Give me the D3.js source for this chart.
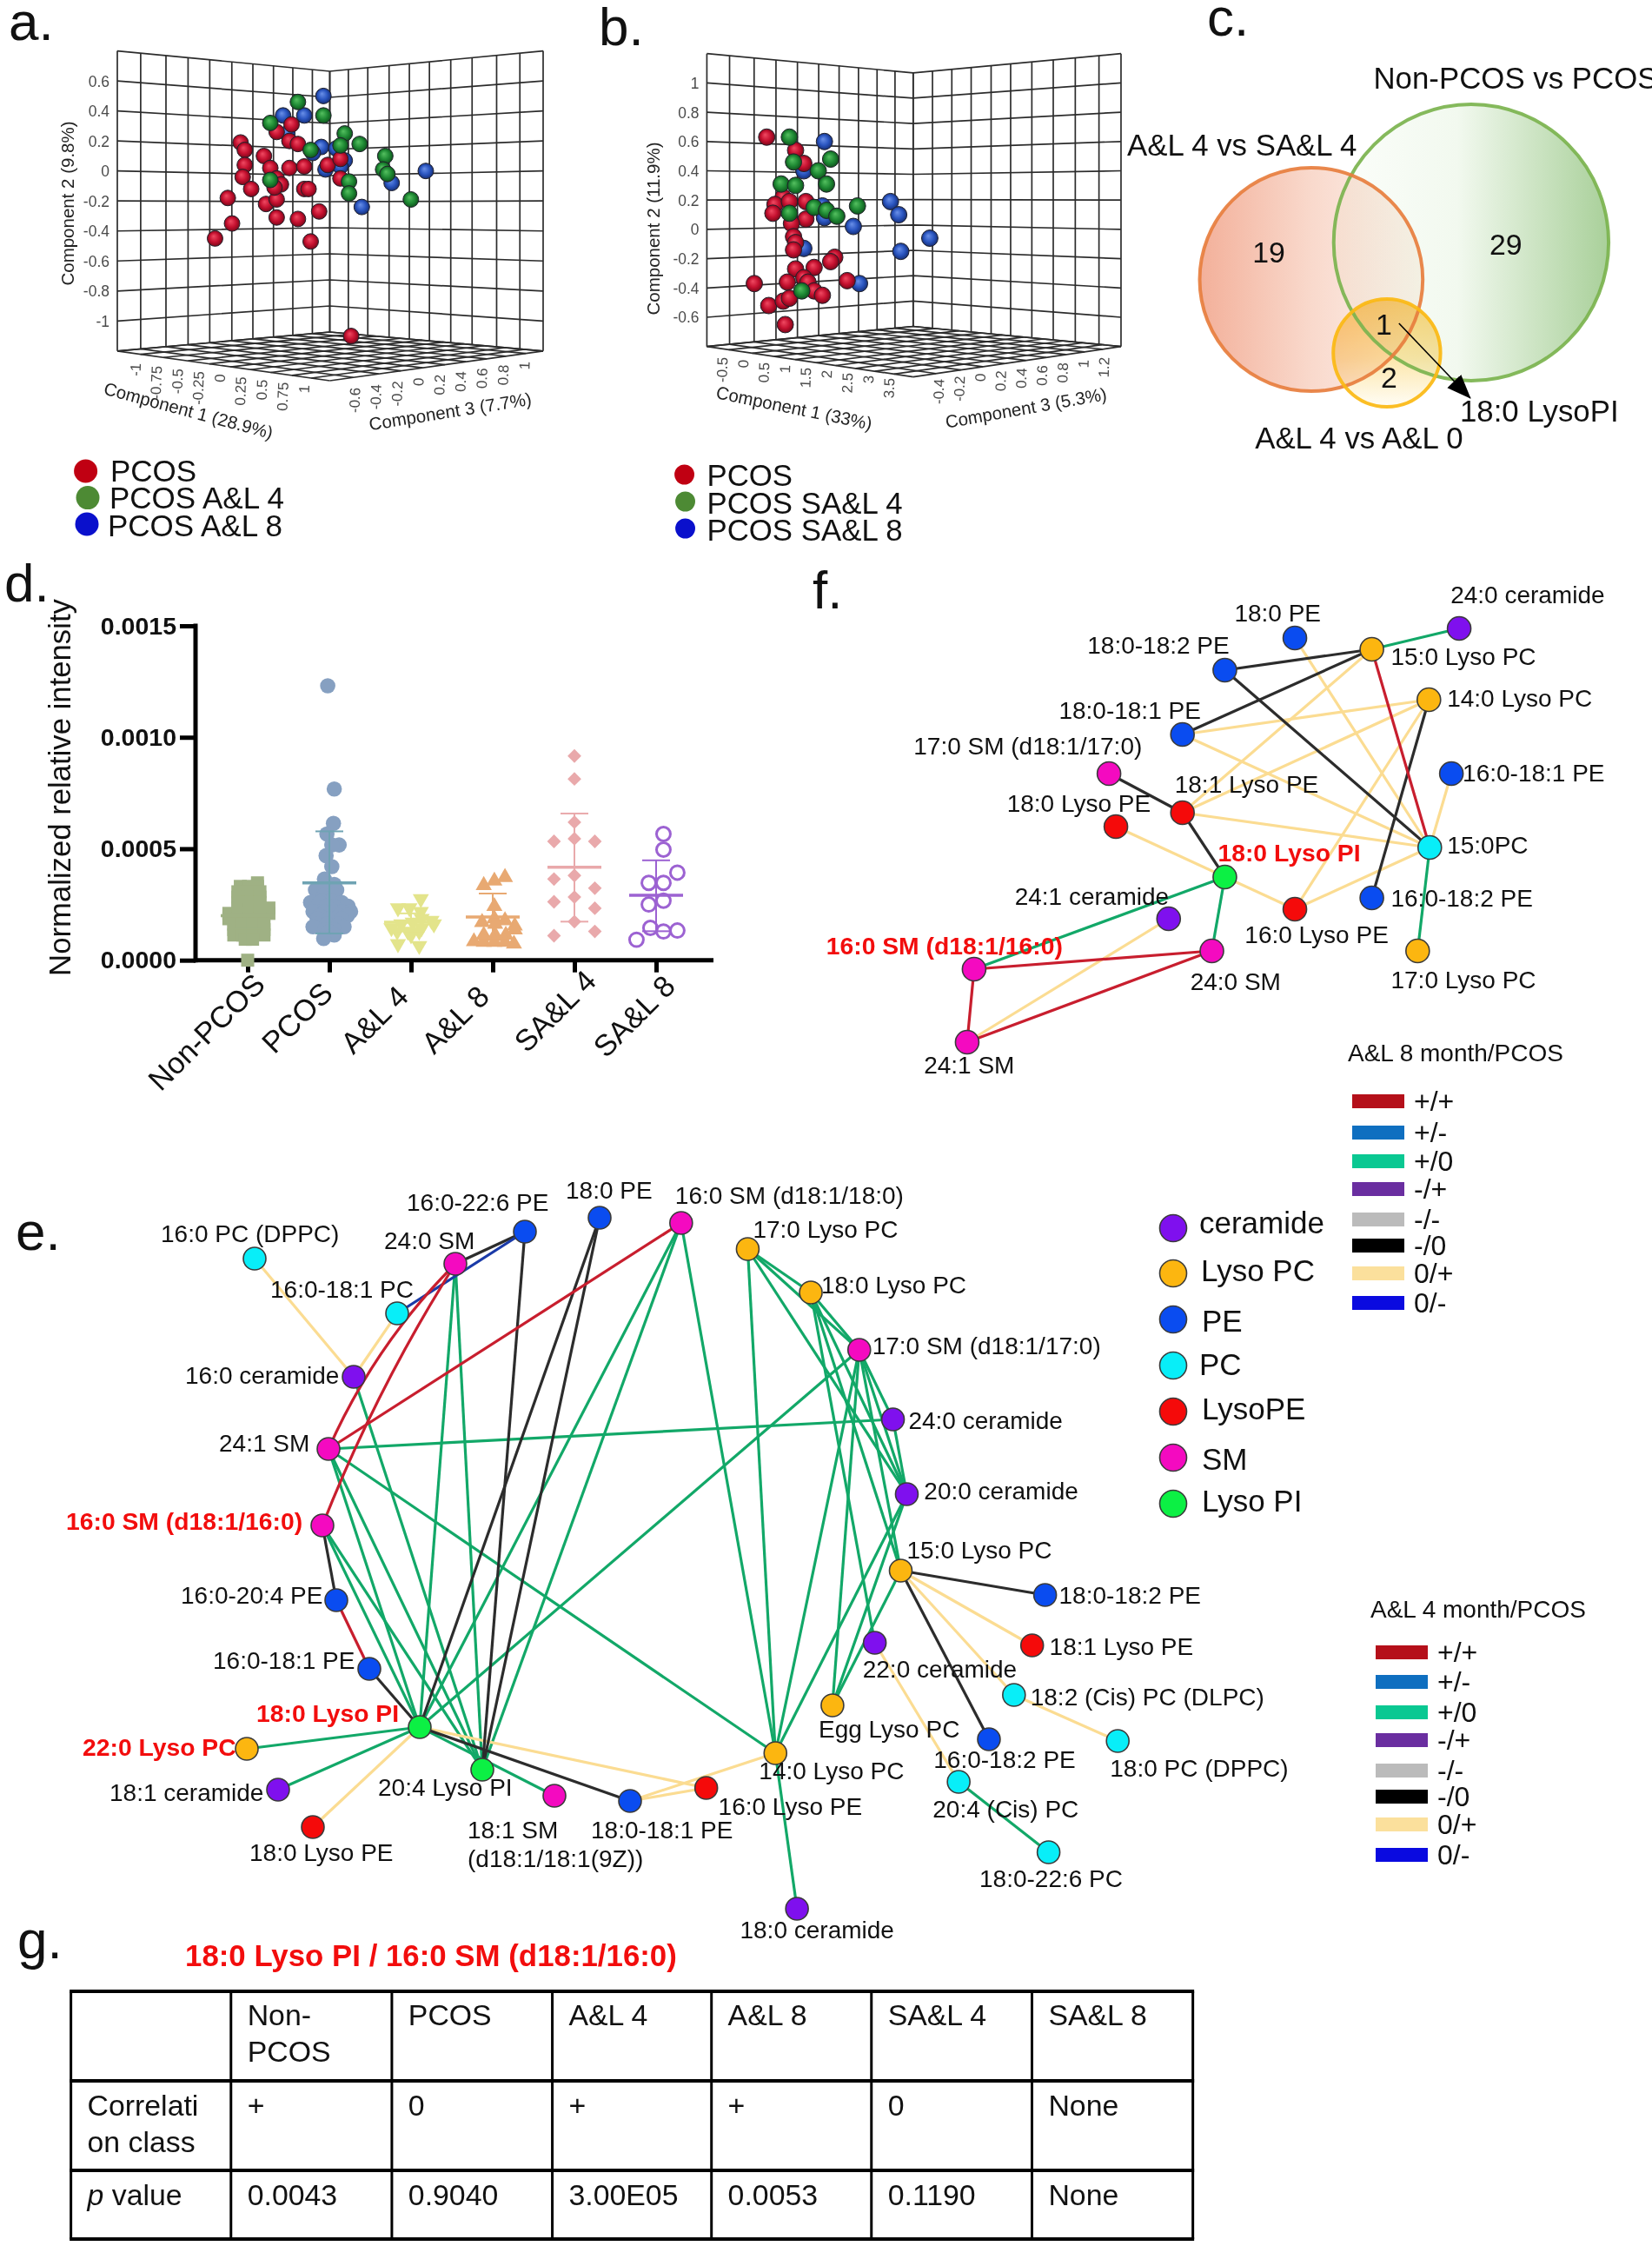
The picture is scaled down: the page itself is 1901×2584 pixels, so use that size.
<!DOCTYPE html>
<html><head><meta charset="utf-8">
<script src="https://cdn.jsdelivr.net/npm/d3@7/dist/d3.min.js"></script>
<style>
html,body{margin:0;padding:0;background:#fff;overflow:hidden}
svg{display:block}
text{font-family:"Liberation Sans",Arial,sans-serif;fill:#111}
</style></head><body>
<script>
// ---------- Panel a / b: PCA scores as [projected horizontal position, Component 2]
const pcaARed=[[-.42,.19],[-.40,.14],[-.31,.10],[-.40,.04],[-.41,-.04],[-.28,.02],[-.19,.02],[-.12,.03],[-.37,-.12],[-.48,-.18],[-.46,-.35],[-.54,-.45],[-.30,-.22],[-.25,-.19],[-.25,-.31],[-.15,-.32],[-.05,-.27],[-.09,-.47],[-.25,-.05],[-.23,-.09],[-.26,-.11],[-.12,-.12],[-.10,-.12],[-.25,.26],[-.19,.20],[-.18,.31],[-.15,.18],[-.01,.04],[.05,.08],[.05,-.05],[.10,-1.10]];
const pcaAGreen=[[-.15,.46],[-.03,.37],[-.28,.32],[.07,.25],[.14,.18],[.05,.17],[-.09,.14],[.26,.10],[.25,.01],[.27,-.02],[-.28,-.06],[.09,-.07],[.09,-.15],[.38,-.19]];
const pcaABlue=[[-.03,.50],[-.22,.37],[-.12,.37],[-.20,.25],[-.04,.16],[.03,.15],[-.08,.12],[.07,.07],[.05,.03],[-.02,.01],[.29,-.08],[.45,0],[.15,-.24]];
const pcaBRed=[[-.71,.63],[-.57,.54],[-.53,.45],[-.63,.22],[-.67,.17],[-.60,.19],[-.52,.19],[-.68,.11],[-.52,.07],[-.59,.04],[-.58,-.05],[-.57,-.09],[-.58,-.14],[-.38,-.19],[-.40,-.22],[-.48,-.26],[-.57,-.27],[-.77,-.37],[-.61,-.36],[-.53,-.33],[-.51,-.36],[-.70,-.52],[-.63,-.49],[-.60,-.47],[-.48,-.42],[-.44,-.45],[-.32,-.35],[-.62,-.65]];
const pcaBGreen=[[-.60,.63],[-.40,.48],[-.58,.46],[-.46,.40],[-.64,.31],[-.57,.30],[-.42,.31],[-.27,.16],[-.48,.15],[-.60,.11],[-.42,.13],[-.37,.09],[-.54,-.42]];
const pcaBBlue=[[-.43,.60],[-.53,.40],[-.11,.19],[-.07,.10],[-.44,.16],[-.43,.08],[-.29,.02],[.08,-.06],[-.53,-.13],[-.06,-.15],[-.26,-.37]];
const aY=[0.6,0.4,0.2,0,-0.2,-0.4,-0.6,-0.8,-1];
const bY=[1,0.8,0.6,0.4,0.2,0,-0.2,-0.4,-0.6];
const aC1=["-1","-0.75","-0.5","-0.25","0","0.25","0.5","0.75","1"];
const aC3=["-0.6","-0.4","-0.2","0","0.2","0.4","0.6","0.8","1"];
const bC1=["-0.5","0","0.5","1","1.5","2","2.5","3","3.5"];
const bC3=["-0.4","-0.2","0","0.2","0.4","0.6","0.8","1","1.2"];
const aWallL=[0,.11,.229,.333,.435,.539,.638,.735,.826,.918,1];
const aWallR=[0,.087,.178,.278,.373,.467,.567,.667,.782,.891,1];
const bWallL=[0,.11,.229,.335,.439,.542,.641,.735,.825,.912,1];
const bWallR=[0,.093,.186,.279,.375,.469,.571,.674,.78,.894,1];

// ---------- Panel c
const vennCounts=["19","29","1","2"];
const vennSets=["A&L 4 vs SA&L 4","Non-PCOS vs PCOS","A&L 4 vs A&L 0"];

// ---------- Panel d: rows of [value x 1e-4, swarm offsets in % of a category step]
const dCategories=["Non-PCOS","PCOS","A&L 4","A&L 8","SA&L 4","SA&L 8"];
const dNonPcos=[[3.47,[12]],[3.31,[-9,1,12]],[3.07,[-12,0,15]],[2.83,[-12,0,15]],[2.59,[-12,0,15]],[2.34,[-12,1,15,26]],[2.10,[-23,-12,0,15,26]],[1.86,[-23,-12,1,15]],[1.62,[-17,-6,6,20]],[1.37,[-17,-6,6,20]],[1.13,[-17,-6,6,20]],[.94,[-3,6]],[0,[0]]];
const dPcos=[[12.31,[-2]],[7.68,[6]],[6.14,[5]],[5.66,[-3]],[5.17,[12,3]],[4.69,[-4]],[4.20,[3]],[3.64,[-6]],[3.40,[-3,6]],[3.15,[9,-17,-6]],[2.91,[-6,6]],[2.67,[3,-10]],[2.59,[-23,-12,15]],[2.42,[23,6,-4]],[2.18,[26,-20,-6,6,16]],[2.0,[-12,12,22]],[1.86,[-15,0,15]],[1.62,[-15,-3,12]],[1.50,[-20,18]],[1.37,[-6,6]],[1.29,[0]],[1.13,[6]],[.97,[-7]]];
const dAL4=[[2.75,[12]],[2.34,[-16,-2]],[2.18,[12]],[1.86,[13]],[1.78,[25]],[1.70,[2]],[1.62,[-12,28]],[1.45,[-24,13]],[1.29,[-17,-4,10]],[1.13,[0]],[.73,[-16]],[.65,[10]]];
const dAL8=[[3.72,[15]],[3.56,[2]],[3.36,[-11]],[2.42,[2]],[1.86,[2]],[1.78,[15]],[1.70,[-13]],[1.62,[3]],[1.54,[27]],[1.37,[27]],[1.13,[-11,3,16]],[.84,[-23]],[.81,[-11,2,15]],[.73,[26]]];
const dSAL4=[[9.16,[0]],[8.13,[0]],[6.19,[0]],[5.45,[0]],[5.33,[-25,25]],[3.80,[0]],[3.64,[-25]],[3.23,[25]],[2.83,[0]],[2.62,[-25]],[2.33,[25]],[1.73,[0]],[1.29,[25]],[1.10,[-25]]];
const dSAL8=[[5.66,[9]],[4.96,[9]],[3.93,[26]],[3.47,[-9,9]],[2.67,[9]],[2.50,[-9]],[1.45,[-7]],[1.33,[26]],[1.29,[9]],[.92,[-24]]];
const dMeans=[2.0,3.47,1.7,1.94,4.17,2.91];
const dUpper=[2.6,5.78,2.1,2.99,6.58,4.48];
const dLower=[1.4,1.2,1.3,.9,1.73,1.3];

// ---------- Panels e / f: networks [name, class, node x, node y, label x, label y, highlighted]
const eNodes=[
["16:0 PC (DPPC)","PC",293,1448,185,1429],["16:0-22:6 PE","PE",604,1417,468,1393],["18:0 PE","PE",690,1401,651,1379],
["16:0 SM (d18:1/18:0)","SM",784,1407,777,1385],["24:0 SM","SM",524,1454,442,1437],["16:0-18:1 PC","PC",457,1511,311,1493],
["16:0 ceramide","ceramide",407,1584,213,1592],["24:1 SM","SM",378,1667,252,1670],["16:0 SM (d18:1/16:0)","SM",371,1755,76,1760,1],
["16:0-20:4 PE","PE",387,1841,208,1845],["16:0-18:1 PE","PE",425,1920,245,1920],["18:0 Lyso PI","LysoPI",483,1987,295,1981,1],
["22:0 Lyso PC","LysoPC",284,2012,95,2020,1],["18:1 ceramide","ceramide",320,2059,126,2072],["18:0 Lyso PE","LysoPE",360,2102,287,2141],
["20:4 Lyso PI","LysoPI",555,2036,435,2066],["18:1 SM","SM",638,2066,538,2115],["18:0-18:1 PE","PE",725,2072,680,2115],
["17:0 Lyso PC","LysoPC",861,1437,867,1424],["18:0 Lyso PC","LysoPC",934,1487,946,1488],["17:0 SM (d18:1/17:0)","SM",990,1553,1005,1558],
["24:0 ceramide","ceramide",1029,1633,1047,1644],["20:0 ceramide","ceramide",1045,1719,1065,1725],["15:0 Lyso PC","LysoPC",1038,1807,1045,1793],
["18:0-18:2 PE","PE",1205,1835,1221,1845],["18:1 Lyso PE","LysoPE",1190,1893,1210,1904],["22:0 ceramide","ceramide",1008,1890,994,1930],
["18:2 (Cis) PC (DLPC)","PC",1169,1950,1188,1962],["Egg Lyso PC","LysoPC",959,1962,943,1999],["18:0 PC (DPPC)","PC",1289,2003,1280,2044],
["16:0-18:2 PE","PE",1140,2001,1076,2034],["14:0 Lyso PC","LysoPC",893,2017,874,2047],["20:4 (Cis) PC","PC",1105,2050,1075,2091],
["16:0 Lyso PE","LysoPE",813,2057,827,2088],["18:0-22:6 PC","PC",1209,2131,1129,2171],["18:0 ceramide","ceramide",918,2196,852,2230]];
const eExtraLabels=[["(d18:1/18:1(9Z))",538,2148]];
const eEdges=[
["+/0","18:0 Lyso PI","22:0 Lyso PC"],["+/0","18:0 Lyso PI","18:1 ceramide"],["+/0","18:0 Lyso PI","24:1 SM"],["+/0","18:0 Lyso PI","16:0 SM (d18:1/16:0)"],["+/0","18:0 Lyso PI","24:0 SM"],["+/0","18:0 Lyso PI","16:0 SM (d18:1/18:0)"],["+/0","18:0 Lyso PI","17:0 SM (d18:1/17:0)"],["+/0","18:0 Lyso PI","18:1 SM"],
["+/0","20:4 Lyso PI","24:0 SM"],["+/0","20:4 Lyso PI","24:1 SM"],["+/0","20:4 Lyso PI","16:0 SM (d18:1/16:0)"],["+/0","20:4 Lyso PI","16:0 ceramide"],["+/0","20:4 Lyso PI","16:0 SM (d18:1/18:0)"],
["+/0","24:1 SM","24:0 ceramide"],["+/0","24:1 SM","14:0 Lyso PC"],["+/0","16:0 SM (d18:1/18:0)","14:0 Lyso PC"],["+/0","17:0 Lyso PC","14:0 Lyso PC"],["+/0","14:0 Lyso PC","20:0 ceramide"],["+/0","14:0 Lyso PC","18:0 ceramide"],
["+/0","17:0 Lyso PC","18:0 Lyso PC"],["+/0","17:0 Lyso PC","17:0 SM (d18:1/17:0)"],["+/0","17:0 Lyso PC","20:0 ceramide"],["+/0","18:0 Lyso PC","17:0 SM (d18:1/17:0)"],["+/0","18:0 Lyso PC","20:0 ceramide"],["+/0","18:0 Lyso PC","22:0 ceramide"],["+/0","18:0 Lyso PC","15:0 Lyso PC"],
["+/0","17:0 SM (d18:1/17:0)","24:0 ceramide"],["+/0","17:0 SM (d18:1/17:0)","20:0 ceramide"],["+/0","17:0 SM (d18:1/17:0)","15:0 Lyso PC"],["+/0","17:0 SM (d18:1/17:0)","Egg Lyso PC"],["+/0","17:0 SM (d18:1/17:0)","14:0 Lyso PC"],["+/0","24:0 ceramide","20:0 ceramide"],["+/0","20:0 ceramide","Egg Lyso PC"],["+/0","15:0 Lyso PC","Egg Lyso PC"],["+/0","20:4 (Cis) PC","18:0-22:6 PC"],
["0/+","16:0 PC (DPPC)","16:0 ceramide"],["0/+","16:0-18:1 PC","16:0 ceramide"],["0/+","18:0 Lyso PI","18:0 Lyso PE"],["0/+","18:0 Lyso PI","16:0 Lyso PE"],["0/+","18:0-18:1 PE","14:0 Lyso PC"],["0/+","18:0-18:1 PE","16:0 Lyso PE"],["0/+","15:0 Lyso PC","18:1 Lyso PE"],["0/+","15:0 Lyso PC","18:2 (Cis) PC (DLPC)"],["0/+","18:2 (Cis) PC (DLPC)","18:0 PC (DPPC)"],["0/+","22:0 ceramide","20:4 (Cis) PC"],
["-/0","24:0 SM","16:0-22:6 PE"],["-/0","16:0-22:6 PE","20:4 Lyso PI"],["-/0","18:0 PE","18:0 Lyso PI"],["-/0","18:0 PE","20:4 Lyso PI"],["-/0","16:0 SM (d18:1/16:0)","16:0-20:4 PE"],["-/0","16:0-18:1 PE","18:0 Lyso PI"],["-/0","18:0 Lyso PI","18:0-18:1 PE"],["-/0","15:0 Lyso PC","18:0-18:2 PE"],["-/0","15:0 Lyso PC","16:0-18:2 PE"],
["0/-","16:0-18:1 PC","16:0-22:6 PE"],
["+/+","24:0 SM","24:1 SM",12],["+/+","24:0 SM","16:0 SM (d18:1/16:0)",8],["+/+","24:1 SM","16:0 SM (d18:1/18:0)"],["+/+","16:0-20:4 PE","16:0-18:1 PE"]];
const fNodes=[
["24:0 ceramide","ceramide",1683,723,1673,694],["18:0 PE","PE",1493,734,1423,715],["15:0 Lyso PC","LysoPC",1582,747,1604,765],
["18:0-18:2 PE","PE",1412,771,1253,752],["14:0 Lyso PC","LysoPC",1648,805,1669,813],["18:0-18:1 PE","PE",1363,845,1220,827],
["16:0-18:1 PE","PE",1674,890,1687,899],["17:0 SM (d18:1/17:0)","SM",1278,890,1052,868],["18:1 Lyso PE","LysoPE",1363,935,1354,912],
["18:0 Lyso PE","LysoPE",1286,951,1160,934],["15:0PC","PC",1649,975,1669,982],["18:0 Lyso PI","LysoPI",1412,1009,1404,991,1],
["16:0 Lyso PE","LysoPE",1493,1046,1435,1085],["16:0-18:2 PE","PE",1582,1033,1604,1043],["24:1 ceramide","ceramide",1347,1057,1169,1041],
["24:0 SM","SM",1397,1094,1372,1139],["17:0 Lyso PC","LysoPC",1635,1094,1604,1137],["16:0 SM (d18:1/16:0)","SM",1122,1115,951,1098,1],["24:1 SM","SM",1114,1199,1064,1235]];
const fEdges=[
["0/+","18:0 PE","15:0PC"],["0/+","15:0 Lyso PC","18:1 Lyso PE"],["0/+","14:0 Lyso PC","18:0-18:1 PE"],["0/+","14:0 Lyso PC","18:1 Lyso PE"],["0/+","18:0-18:1 PE","15:0PC"],["0/+","18:1 Lyso PE","15:0PC"],["0/+","14:0 Lyso PC","16:0 Lyso PE"],["0/+","16:0-18:1 PE","15:0PC"],["0/+","15:0PC","16:0 Lyso PE"],["0/+","18:0 Lyso PE","16:0 Lyso PE"],["0/+","24:1 ceramide","24:1 SM"],
["+/0","15:0 Lyso PC","24:0 ceramide"],["+/0","15:0PC","17:0 Lyso PC"],["+/0","18:0 Lyso PI","16:0 SM (d18:1/16:0)"],["+/0","18:0 Lyso PI","24:0 SM"],
["-/0","18:0-18:2 PE","15:0 Lyso PC"],["-/0","18:0-18:1 PE","15:0 Lyso PC"],["-/0","18:0-18:2 PE","15:0PC"],["-/0","14:0 Lyso PC","16:0-18:2 PE"],["-/0","17:0 SM (d18:1/17:0)","18:1 Lyso PE"],["-/0","18:1 Lyso PE","18:0 Lyso PI"],
["+/+","15:0 Lyso PC","15:0PC"],["+/+","16:0 SM (d18:1/16:0)","24:0 SM"],["+/+","24:1 SM","24:0 SM"],["+/+","16:0 SM (d18:1/16:0)","24:1 SM"]];
const edgeClasses=["+/+","+/-","+/0","-/+","-/-","-/0","0/+","0/-"];
const nodeClasses=["ceramide","LysoPC","PE","PC","LysoPE","SM","LysoPI"];
const nodeClassNames=["ceramide","Lyso PC","PE","PC","LysoPE","SM","Lyso PI"];

// ---------- Panel g
const tableHead=[["",""],["Non-","PCOS"],["PCOS"],["A&L 4"],["A&L 8"],["SA&L 4"],["SA&L 8"]];
const tableCorr=[["Correlati","on class"],["+"],["0"],["+"],["+"],["0"],["None"]];
const tableP=[["p value"],["0.0043"],["0.9040"],["3.00E05"],["0.0053"],["0.1190"],["None"]];

// ---------- Drawing
const svg=d3.select("body").append("svg").attr("width",1901).attr("height",2584).attr("viewBox","0 0 1901 2584");
svg.append("rect").attr("width",1901).attr("height",2584).attr("fill","#fff");
const defs=svg.append("defs");
const squeeze=(x0,k)=>`translate(${x0},0) scale(${k},1) translate(${-x0},0)`;
function T(g,s,x,y,size,o={}){
  const t=g.append("text").attr("x",x).attr("y",y).attr("font-size",size).text(s);
  if(o.weight)t.attr("font-weight",o.weight);
  if(o.fill)t.style("fill",o.fill);
  if(o.anchor)t.attr("text-anchor",o.anchor);
  if(o.rotate!==undefined)t.attr("transform",`rotate(${o.rotate} ${x} ${y})`);
  if(o.mid)t.attr("dominant-baseline","central");
  return t;
}
[["a.",10,46],["b.",689,52],["c.",1389,41],["d.",5,692],["e.",18,1438],["f.",935,700],["g.",20,2253]].forEach(d=>T(svg,d[0],d[1],d[2],62));

const sphereCols={r:["#f04a62","#c4102f","#6d0616"],g:["#55c060","#1f8a34","#0c4a18"],b:["#6a90e8","#2a55c0","#12286a"]};
Object.entries(sphereCols).forEach(([k,c])=>{
  const g=defs.append("radialGradient").attr("id","sph"+k).attr("cx","50%").attr("cy","50%").attr("r","55%").attr("fx","40%").attr("fy","35%");
  g.append("stop").attr("offset","0%").attr("stop-color",c[0]);
  g.append("stop").attr("offset","55%").attr("stop-color",c[1]);
  g.append("stop").attr("offset","100%").attr("stop-color",c[2]);
});
const lerp=(a,b,t)=>a+(b-a)*t;
function draw3D(c){
  const g=svg.append("g");
  if(c.fix)g.attr("transform",c.fix);
  const y=d3.scaleLinear().domain([0,1]).range([c.y0,c.y0-c.yUnit]);
  const h=d3.scaleLinear().domain([-1,0,1]).range([c.L,c.C,c.R]);
  const levels=d3.range(11).map(i=>c.vTop-i*0.2);
  const cy=i=>lerp(c.cTop,c.cBot,i/10);
  const grid=g.append("g").attr("fill","none").attr("stroke","#2c2c2c").attr("stroke-width",1.7);
  levels.forEach((v,i)=>{
    grid.append("path").attr("d",d3.line()([[c.L,y(v)],[c.C,cy(i)],[c.R,y(v)]]));
  });
  c.wallL.forEach(t=>{const x=lerp(c.L,c.C,t);
    grid.append("line").attr("x1",x).attr("x2",x).attr("y1",lerp(y(c.vTop),c.cTop,t)).attr("y2",lerp(y(c.vTop-2),c.cBot,t));});
  c.wallR.forEach(t=>{const x=lerp(c.C,c.R,t);
    grid.append("line").attr("x1",x).attr("x2",x).attr("y1",lerp(c.cTop,y(c.vTop),t)).attr("y2",lerp(c.cBot,y(c.vTop-2),t));});
  const yb=y(c.vTop-2);
  c.wallL.forEach(t=>{grid.append("line").attr("x1",lerp(c.L,c.C,t)).attr("y1",lerp(yb,c.cBot,t)).attr("x2",lerp(c.C,c.R,t)).attr("y2",lerp(c.front,yb,t));});
  c.wallR.forEach(t=>{grid.append("line").attr("x1",lerp(c.R,c.C,t)).attr("y1",lerp(yb,c.cBot,t)).attr("x2",lerp(c.C,c.L,t)).attr("y2",lerp(c.front,yb,t));});
  const tk={fill:"#4a4a4a",anchor:"end"};
  c.yTicks.forEach(v=>T(g,String(v),c.L-9,y(v)+6.5,17.5,tk));
  T(g,c.yTitle,c.yTitleX,c.yTitleY,20.5,{rotate:-90,anchor:"middle",mid:1,fill:"#222"});
  [[c.c1,c.c1x,c.c1y],[c.c3,c.c3x,c.c3y]].forEach(([ticks,xr,yr])=>{
    const px=d3.scalePoint(ticks,xr),py=d3.scalePoint(ticks,yr);
    ticks.forEach(t=>T(g,t,px(t)+6,py(t),17,{rotate:-88,anchor:"end",fill:"#4a4a4a"}));
  });
  T(g,c.t1[0],c.t1[1],c.t1[2],20.5,{rotate:c.t1[3],anchor:"middle",mid:1,fill:"#222"});
  T(g,c.t3[0],c.t3[1],c.t3[2],20.5,{rotate:c.t3[3],anchor:"middle",mid:1,fill:"#222"});
  [[c.blue,"b"],[c.red,"r"],[c.green,"g"]].forEach(([arr,k])=>{
    g.append("g").selectAll("circle").data(arr).join("circle")
      .attr("cx",d=>h(d[0])).attr("cy",d=>y(d[1])).attr("r",c.r)
      .attr("fill",`url(#sph${k})`).attr("stroke","#20202a").attr("stroke-width",1);
  });
  c.legend.forEach(d=>{
    g.append("ellipse").attr("cx",d[0]).attr("cy",d[1]).attr("rx",c.lr).attr("ry",c.lr).attr("fill",d[2]);
    T(g,d[3],d[4],d[5],35);
  });
}
draw3D({L:135,C:379.5,R:625,y0:196.7,yUnit:172.6,vTop:.8,cTop:82,cBot:382,front:438,wallL:aWallL,wallR:aWallR,r:9,
  yTicks:aY,yTitle:"Component 2 (9.8%)",yTitleX:77,yTitleY:234,
  c1:aC1,c1x:[156,350],c1y:[418,443],c3:aC3,c3x:[408.5,603.6],c3y:[446,416],
  t1:["Component 1 (28.9%)",217,472,15],t3:["Component 3 (7.7%)",518,473,-9],
  red:pcaARed,green:pcaAGreen,blue:pcaABlue,lr:13.5,
  legend:[[98.6,542,"#c00012","PCOS",127,554],[101,572.6,"#4d8a34","PCOS A&L 4",126,585],[100,603,"#0a10cc","PCOS A&L 8",124,617]]});
draw3D({fix:squeeze(700,.9949),L:814,C:1052.6,R:1293,y0:263.9,yUnit:168.5,vTop:1.2,cTop:83.8,cBot:375.5,front:433.6,wallL:bWallL,wallR:bWallR,r:9.5,
  yTicks:bY,yTitle:"Component 2 (11.9%)",yTitleX:752,yTitleY:263,
  c1:bC1,c1x:[832,1025],c1y:[411,435],c3:bC3,c3x:[1082.6,1273.5],c3y:[436,411],
  t1:["Component 1 (33%)",915,469,11.5],t3:["Component 3 (5.3%)",1183,469,-10],
  red:pcaBRed,green:pcaBGreen,blue:pcaBBlue,lr:11.5,
  legend:[[788,546,"#c00012","PCOS",814,559],[789,577,"#4d8a34","PCOS SA&L 4",814,591],[789,608,"#0a10cc","PCOS SA&L 8",814,622]]});

// Venn
(function(){
  const g=svg.append("g").attr("transform",squeeze(700,.9949));
  const grad=(id,x1,y1,x2,y2,stops)=>{const d=defs.append("linearGradient").attr("id",id).attr("x1",x1).attr("y1",y1).attr("x2",x2).attr("y2",y2);
    stops.forEach(s=>d.append("stop").attr("offset",s[0]).attr("stop-color",s[1]));};
  grad("vO",0,0,1,0,[[0,"#f3b09a"],[.5,"#f9d9cc"],[1,"#fdf5f0"]]);
  grad("vG",0,0,1,0,[[0,"#fcfefb"],[.45,"#f2f9ef"],[1,"#a9d09a"]]);
  grad("vY",0,0,0,1,[[0,"#fdd577"],[.55,"#fde7ab"],[1,"#fffdf6"]]);
  const cs=[[1698,279,159,159,"vG","#7bb34e",4],[1513,321.5,129,128.6,"vO","#e77e3e",4],[1600.5,406,62,62,"vY","#fbb912",4]];
  cs.forEach(c=>g.append("ellipse").attr("cx",c[0]).attr("cy",c[1]).attr("rx",c[2]).attr("ry",c[3]).attr("fill",`url(#${c[4]})`).style("mix-blend-mode","multiply"));
  cs.forEach(c=>g.append("ellipse").attr("cx",c[0]).attr("cy",c[1]).attr("rx",c[2]).attr("ry",c[3]).attr("fill","none").attr("stroke",c[5]).attr("stroke-width",c[6]).attr("stroke-opacity",.92));
  defs.append("marker").attr("id","arrow").attr("markerUnits","userSpaceOnUse").attr("markerWidth",30).attr("markerHeight",24).attr("refX",27).attr("refY",11).attr("orient","auto")
    .append("path").attr("d","M0,0L28,11L0,22Z").attr("fill","#000");
  g.append("line").attr("x1",1614.5).attr("y1",372).attr("x2",1697).attr("y2",458).attr("stroke","#000").attr("stroke-width",1.6).attr("marker-end","url(#arrow)");
  [[vennCounts[0],1464,302],[vennCounts[1],1738,293],[vennCounts[2],1597,385],[vennCounts[3],1603,446]].forEach(d=>T(g,d[0],d[1],d[2],34,{anchor:"middle"}));
  T(g,vennSets[0],1300,179,35);T(g,vennSets[1],1585,102,35);T(g,vennSets[2],1448,516,35);T(g,"18:0 LysoPI",1685,485,35);
})();

// Panel d
(function(){
  const g=svg.append("g");
  const y=d3.scaleLinear().domain([0,.0015]).range([1104.7,720]);
  const x=d3.scalePoint(dCategories,[285,755]);
  const step=x.step();
  const ax=g.append("g").attr("transform","translate(225,0)").call(d3.axisLeft(y).tickValues([0,.0005,.001,.0015]).tickFormat(d3.format(".4f")).tickSize(18).tickPadding(4));
  ax.selectAll("path,line").attr("stroke","#000").attr("stroke-width",5);
  ax.select("path").attr("d",`M0,${y(.0015)-2.5}V${y(0)+2.5}`);
  ax.selectAll("text").attr("font-size",28.5).attr("font-weight","bold").attr("font-family","Liberation Sans").style("fill","#111");
  const bx=g.append("g").attr("transform",`translate(0,${y(0)})`).call(d3.axisBottom(x).tickSize(14).tickFormat(""));
  bx.selectAll("path,line").attr("stroke","#000").attr("stroke-width",5);
  bx.select("path").attr("d","M223,0H821");
  const series=[
    {d:dNonPcos,c:"#9fb184",sym:d3.symbolSquare,size:225,rot:0,mc:"#9fb184"},
    {d:dPcos,c:"#86a0c1",sym:d3.symbolCircle,size:243,rot:0,mc:"#6fa3b3"},
    {d:dAL4,c:"#e3e48b",sym:d3.symbolTriangle,size:150,rot:180,mc:"#e3e48b"},
    {d:dAL8,c:"#e8a972",sym:d3.symbolTriangle,size:150,rot:0,mc:"#e8a972"},
    {d:dSAL4,c:"#e9a9ab",sym:d3.symbolSquare,size:125,rot:45,mc:"#e9a9ab"},
    {d:dSAL8,c:"#9c62d2",sym:d3.symbolCircle,size:200,rot:0,mc:"#9c62d2",open:true}];
  series.forEach((s,i)=>{
    const cx=x(dCategories[i]);
    const pts=s.d.flatMap(r=>r[1].map(o=>({v:r[0]*1e-4,o})));
    g.append("g").selectAll("path").data(pts).join("path")
      .attr("d",d3.symbol(s.sym,s.size))
      .attr("transform",d=>`translate(${cx+d.o/100*step},${y(d.v)}) rotate(${s.rot})`)
      .attr("fill",s.open?"none":s.c).attr("stroke",s.open?s.c:"none").attr("stroke-width",3);
    const e=g.append("g").attr("stroke",s.mc);
    e.append("line").attr("x1",cx).attr("x2",cx).attr("y1",y(dUpper[i]*1e-4)).attr("y2",y(dLower[i]*1e-4)).attr("stroke-width",2);
    [dUpper[i],dLower[i]].forEach(v=>e.append("line").attr("x1",cx-16).attr("x2",cx+16).attr("y1",y(v*1e-4)).attr("y2",y(v*1e-4)).attr("stroke-width",2));
    e.append("line").attr("x1",cx-31).attr("x2",cx+31).attr("y1",y(dMeans[i]*1e-4)).attr("y2",y(dMeans[i]*1e-4)).attr("stroke-width",3.5);
  });
  const off=[24,8,1,0,29,26],oy=[30,40,44,44,26,32];
  dCategories.forEach((c,i)=>T(g,c,x(c)+off[i]-2,y(0)+oy[i],34.5,{rotate:-45,anchor:"end"}));
  T(g,"Normalized relative intensity",69,906,34.7,{rotate:-90,anchor:"middle",mid:1});
})();

// Networks
const nodeColor=d3.scaleOrdinal(nodeClasses,["#7f10ee","#fcb610","#0a4cf0","#08eef8","#f50a0a","#f40ac0","#0cf044"]);
const edgeColor=d3.scaleOrdinal(edgeClasses,["#c81e2e","#0f6fc0","#12a868","#6a2ea0","#bbbbbb","#2c2c2c","#fbdc92","#1a3aa8"]);
const layoutY=d3.scaleLinear().domain([0,2584]).range([0,2584]);
function drawNet(nodes,edges,extra,fontSize,r,layoutX){
  const g=svg.append("g");
  const m=new Map(nodes.map(n=>[n[0],n]));
  g.append("g").selectAll("path").data(edges).join("path").attr("fill","none")
    .attr("d",d=>{
      const a=m.get(d[1]),b=m.get(d[2]),x1=layoutX(a[2]),y1=layoutY(a[3]),x2=layoutX(b[2]),y2=layoutY(b[3]);
      const p=d3.path();p.moveTo(x1,y1);
      const L=Math.hypot(x2-x1,y2-y1),bow=(d[3]||0)*2;
      p.quadraticCurveTo((x1+x2)/2-bow*(y2-y1)/L,(y1+y2)/2+bow*(x2-x1)/L,x2,y2);
      return p.toString();})
    .attr("stroke",d=>edgeColor(d[0])).attr("stroke-width",3.2);
  g.append("g").selectAll("circle").data(nodes).join("circle")
    .attr("cx",d=>layoutX(d[2])).attr("cy",d=>layoutY(d[3])).attr("r",r)
    .attr("fill",d=>nodeColor(d[1])).attr("stroke","#3a3a3a").attr("stroke-width",1.6);
  nodes.forEach(n=>{
    T(g,n[0],layoutX(n[4]),layoutY(n[5]),n[6]?fontSize+.3:fontSize,n[6]?{weight:"bold",fill:"#f20d0d"}:{});
  });
  extra.forEach(e=>T(g,e[0],layoutX(e[1]),layoutY(e[2]),fontSize));
}
drawNet(eNodes,eEdges,eExtraLabels,28,13,d3.scaleLinear().domain([0,750,1901]).range([0,750,1895]));
drawNet(fNodes,fEdges,[],28,13.5,d3.scaleLinear().domain([0,900,1901]).range([0,900,1896]));

function edgeLegend(title,tx,ty,sx,sw,ys,lx,size){
  const g=svg.append("g");
  T(g,title,tx,ty,28);
  edgeClasses.forEach((c,i)=>{
    g.append("rect").attr("x",sx).attr("y",ys[i]-8).attr("width",sw).attr("height",16)
      .attr("fill",["#b5101a","#0f6fc0","#0ac892","#6a2ea0","#bbbbbb","#000000","#fbe09c","#0a0ae0"][i]);
    T(g,c,lx,ys[i]+11,size);
  });
}
edgeLegend("A&L 8 month/PCOS",1551,1221,1556,60,[1267,1303,1336,1368,1403,1433,1465,1499],1627,32);
edgeLegend("A&L 4 month/PCOS",1577,1861,1583,60,[1901,1935,1970,2002,2037,2067,2099,2134],1654,32);
(function(){
  const g=svg.append("g");
  const ys=[1413,1465,1518,1571,1624,1677,1730],tx=[1380,1382,1383,1380,1383,1383,1383],by=[1419,1474,1532,1582,1633,1691,1739];
  nodeClasses.forEach((c,i)=>{
    g.append("circle").attr("cx",1350).attr("cy",ys[i]).attr("r",15.5).attr("fill",nodeColor(c)).attr("stroke","#3a3a3a").attr("stroke-width",1.6);
    T(g,nodeClassNames[i],tx[i],by[i],35);
  });
})();

// Table
(function(){
  const g=svg.append("g").attr("transform",squeeze(0,.9954));
  T(g,"18:0 Lyso PI / 16:0 SM (d18:1/16:0)",214,2262,35,{weight:"bold",fill:"#f20d0d"});
  const cols=[82,267,453,638.5,822.5,1007.4,1193,1379],rows=[2291,2394,2497,2576];
  cols.forEach(x=>g.append("line").attr("x1",x).attr("x2",x).attr("y1",rows[0]).attr("y2",rows[3]).attr("stroke","#000").attr("stroke-width",3));
  rows.forEach(y=>g.append("line").attr("x1",cols[0]-1.5).attr("x2",cols[7]+1.5).attr("y1",y).attr("y2",y).attr("stroke","#000").attr("stroke-width",4));
  const lines=[[tableHead,[2330,2372]],[tableCorr,[2434,2476]],[tableP,[2537]]];
  lines.forEach(([row,bl])=>row.forEach((cell,c)=>cell.forEach((s,i)=>{
    if(!s)return;
    const t=T(g,"",cols[c]+19,bl[i],34);
    if(s==="p value"){t.append("tspan").attr("font-style","italic").text("p");t.append("tspan").text(" value");}
    else t.text(s);
  })));
})();
</script>
</body></html>
